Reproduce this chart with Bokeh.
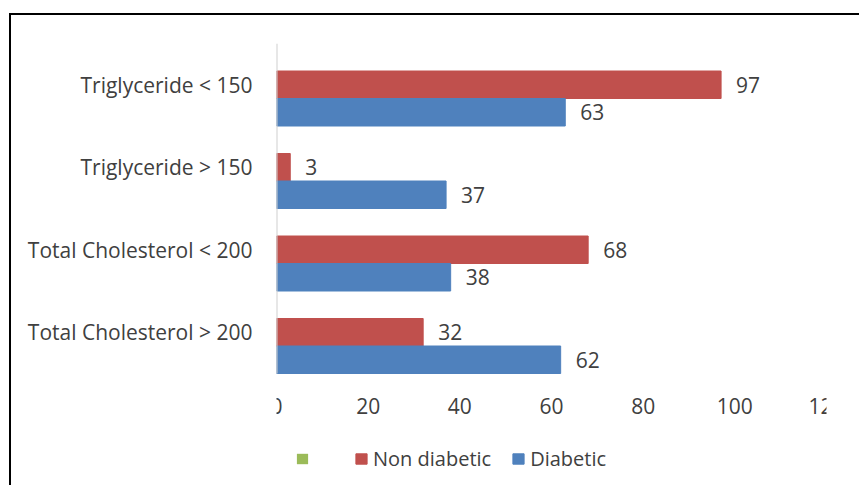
from bokeh.plotting import figure
from bokeh.models import (ColumnDataSource, Range1d, FixedTicker,
                          Legend, LegendItem)
from bokeh.transform import dodge
from bokeh.core.properties import value
from bokeh.embed import file_html
from bokeh.resources import INLINE

# ---- data (bottom to top) ----
categories = ["Total Cholesterol > 200", "Total Cholesterol < 200",
              "Triglyceride > 150", "Triglyceride < 150"]
diabetic = [62, 38, 37, 63]
non_diabetic = [32, 68, 3, 97]
third_series = [0, 0, 0, 0]          # empty (unnamed) series shown only in legend
x_ticks = [0, 20, 40, 60, 80, 100, 120]

RED = "#C0504D"
BLUE = "#4F81BD"
GREEN = "#9BBB59"
TXT = "#404040"
FONT = "Open Sans"

pos = list(range(len(categories)))
src = ColumnDataSource(dict(
    pos=pos,
    cat=categories,
    diab=diabetic,
    nond=non_diabetic,
    third=third_series,
    diab_lbl=[str(v) for v in diabetic],
    nond_lbl=[str(v) for v in non_diabetic],
))

# layout: bars band is 330 px tall, extra 114 px below it holds ticks + legend
band_px = 330.0
extra_px = 114.0
n = len(categories)
unit = band_px / n
y_lo = -0.5 - extra_px / unit
y_hi = n - 0.5

p = figure(
    width=850, height=472,
    y_range=Range1d(y_lo, y_hi),
    x_range=Range1d(0, 120),
    output_backend="svg", toolbar_location=None,
    min_border_left=265, min_border_right=35,
    min_border_top=28, min_border_bottom=0,
)
p.margin = (15, 0, 0, 11)
p.styles = {"box-shadow": "-2px -2px 0px 0px black"}
p.outline_line_color = None
p.xgrid.visible = False
p.ygrid.visible = False

r_green = p.hbar(y=dodge("pos", 1/3), right="third", height=1/3,
                 source=src, fill_color=GREEN, line_color=None)
r_red = p.hbar(y=dodge("pos", 0), right="nond", height=1/3,
               source=src, fill_color=RED, line_color=RED)
r_blue = p.hbar(y=dodge("pos", -1/3), right="diab", height=1/3,
                source=src, fill_color=BLUE, line_color=BLUE)

p.text(x="nond", y=dodge("pos", 0), text="nond_lbl", source=src,
       x_offset=15, text_baseline="middle", text_align="left",
       text_font=value(FONT), text_font_size="21px", text_color=TXT)
p.text(x="diab", y=dodge("pos", -1/3), text="diab_lbl", source=src,
       x_offset=15, text_baseline="middle", text_align="left",
       text_font=value(FONT), text_font_size="21px", text_color=TXT)

# category axis line (only over the bar band)
p.segment(x0=[0], y0=[-0.5], x1=[0], y1=[n - 0.5],
          line_color="#d0d0d0", line_width=2)

# x axis, drawn at the bottom of the bar band
p.xaxis.ticker = FixedTicker(ticks=x_ticks)
p.xaxis.fixed_location = -0.5
p.xaxis.axis_line_color = None
p.xaxis.major_tick_line_color = None
p.xaxis.minor_tick_line_color = None
p.xaxis.major_label_text_font = FONT
p.xaxis.major_label_text_font_size = "21px"
p.xaxis.major_label_text_color = TXT
p.xaxis.major_label_standoff = 18

# y axis with category names
p.yaxis.ticker = FixedTicker(ticks=pos)
p.yaxis.major_label_overrides = {i: c for i, c in zip(pos, categories)}
p.yaxis.axis_line_color = None
p.yaxis.major_tick_line_color = None
p.yaxis.minor_tick_line_color = None
p.yaxis.major_label_text_font = FONT
p.yaxis.major_label_text_font_size = "21px"
p.yaxis.major_label_text_color = TXT
p.yaxis.major_label_standoff = 18

legend = Legend(items=[
    LegendItem(label=" ", renderers=[r_green]),
    LegendItem(label="Non diabetic", renderers=[r_red]),
    LegendItem(label="Diabetic", renderers=[r_blue]),
], orientation="horizontal", location=(19, 15))
legend.glyph_width = 14
legend.glyph_height = 13
legend.label_standoff = 5
legend.spacing = 20
legend.padding = 0
legend.margin = 0
legend.border_line_color = None
legend.background_fill_alpha = 0
legend.label_text_font = FONT
legend.label_text_font_size = "20px"
legend.label_text_color = TXT
p.add_layout(legend, "center")

open("out.html", "w").write(file_html(p, INLINE))
